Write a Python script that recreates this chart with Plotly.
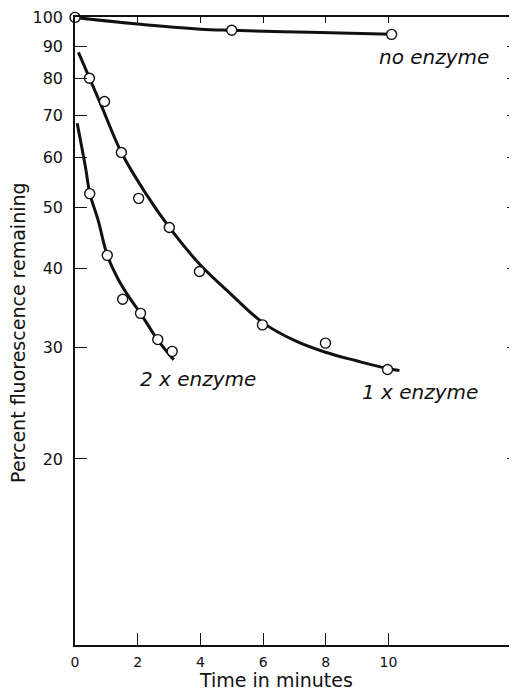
import math
import plotly.graph_objects as go

# ---- data (time in minutes, percent fluorescence remaining) ----
# measured points
t_none = [0.0, 5.0, 10.1]
v_none = [100.0, 95.4, 94.0]

t_1x = [0.46, 0.94, 1.48, 2.03, 3.01, 3.97, 5.98, 7.99, 9.97]
v_1x = [80.1, 73.6, 61.1, 51.7, 46.5, 39.6, 32.6, 30.5, 27.7]

t_2x = [0.47, 1.03, 1.52, 2.09, 2.64, 3.10]
v_2x = [52.6, 42.0, 35.8, 34.0, 30.9, 29.6]

# hand-drawn smooth curves
curve_none_t = [0.0, 2.0, 4.0, 5.0, 7.5, 10.1]
curve_none_v = [100.0, 97.6, 95.8, 95.4, 94.7, 94.0]

curve_1x_t = [0.11, 0.81, 1.48, 2.25, 3.01, 3.97, 4.99, 5.98, 7.00, 7.99, 8.98, 9.97, 10.35]
curve_1x_v = [88.0, 73.1, 61.1, 52.7, 46.5, 40.7, 36.4, 32.9, 30.8, 29.5, 28.6, 27.8, 27.6]

curve_2x_t = [0.07, 0.34, 0.47, 0.74, 1.03, 1.39, 1.77, 2.09, 2.63, 3.15]
curve_2x_v = [68.0, 57.7, 52.7, 47.7, 42.0, 38.4, 35.8, 34.0, 30.9, 28.7]

x_ticks = [0, 2, 4, 6, 8, 10]
y_ticks = [20, 30, 40, 50, 60, 70, 80, 90, 100]
y_right_ticks = [20, 30, 40, 50, 60, 70, 80, 90]

labels = [
    ("<i>no enzyme</i>", 11.44, 86.5),
    ("<i>1 x enzyme</i>", 11.0, 25.5),
    ("<i>2 x enzyme</i>", 3.93, 26.8),
]

FONT = "DejaVu Sans"
INK = "#111111"

X_RANGE = [0, 14.1]
Y_RANGE = [math.log10(10.15), 2.0006]

fig = go.Figure()

for ct, cv in [(curve_none_t, curve_none_v), (curve_1x_t, curve_1x_v), (curve_2x_t, curve_2x_v)]:
    fig.add_trace(go.Scatter(
        x=ct, y=cv, mode="lines", line=dict(color=INK, width=3, shape="spline", smoothing=1.0),
        cliponaxis=False, showlegend=False, hoverinfo="skip"))

for tt, vv in [(t_none, v_none), (t_1x, v_1x), (t_2x, v_2x)]:
    fig.add_trace(go.Scatter(
        x=tt, y=vv, mode="markers",
        marker=dict(symbol="circle", size=10, color="white", line=dict(color=INK, width=1.4)),
        cliponaxis=False, showlegend=False))

# transparent helper trace so the top / right tick axes are drawn
fig.add_trace(go.Scatter(x=[t_1x[0]], y=[v_1x[0]], xaxis="x2", yaxis="y2", mode="markers",
                         marker=dict(opacity=0), showlegend=False, hoverinfo="skip"))

for text, x, y in labels:
    fig.add_annotation(text=text, x=x, y=math.log10(y), xref="x", yref="y", showarrow=False,
                       font=dict(family=FONT, size=20, color=INK))

fig.add_annotation(text="Time in minutes", x=6.41, y=0, xref="x", yref="paper", yshift=-35,
                   xanchor="center", yanchor="middle", showarrow=False,
                   font=dict(family=FONT, size=19, color=INK))
fig.add_annotation(text="Percent fluorescence remaining", x=0, y=0.497, xref="paper", yref="paper",
                   xshift=-57, xanchor="center", yanchor="middle", textangle=-90, showarrow=False,
                   font=dict(family=FONT, size=19, color=INK))

# the page body adds an 8px margin, so the figure is 8px smaller and the margins are shifted
fig.update_layout(
    width=509, height=685,
    margin=dict(l=67, r=0, t=9, b=48, autoexpand=False),
    paper_bgcolor="white", plot_bgcolor="white",
    font=dict(family=FONT, color=INK),
    xaxis=dict(range=X_RANGE, tickvals=x_ticks, ticktext=[str(v) for v in x_ticks],
               ticks="inside", ticklen=12, tickwidth=1.2, tickcolor=INK, automargin=False,
               showline=True, linecolor=INK, linewidth=1.5, showgrid=False, zeroline=False,
               tickfont=dict(family=FONT, size=14, color=INK), ticklabelstandoff=3),
    yaxis=dict(type="log", range=Y_RANGE, tickvals=y_ticks, ticktext=[str(v) for v in y_ticks],
               ticks="inside", ticklen=12, tickwidth=1.2, tickcolor=INK, automargin=False,
               showline=True, linecolor=INK, linewidth=1.5, showgrid=False, zeroline=False,
               tickfont=dict(family=FONT, size=16, color=INK), ticklabelstandoff=7,
               ticklabeloverflow="allow"),
    xaxis2=dict(range=X_RANGE, overlaying="x", side="top", anchor="y2", tickvals=x_ticks,
                automargin=False, ticks="inside", ticklen=6, tickwidth=1.2, tickcolor=INK,
                showticklabels=False, showline=True, linecolor=INK, linewidth=1.5,
                showgrid=False, zeroline=False),
    yaxis2=dict(type="log", range=Y_RANGE, overlaying="y", side="right", anchor="x2",
                tickvals=y_right_ticks, ticks="inside", ticklen=10, tickwidth=1.2, tickcolor=INK,
                showticklabels=False, automargin=False, showline=False, showgrid=False,
                zeroline=False),
)

fig.write_html("out.html")
